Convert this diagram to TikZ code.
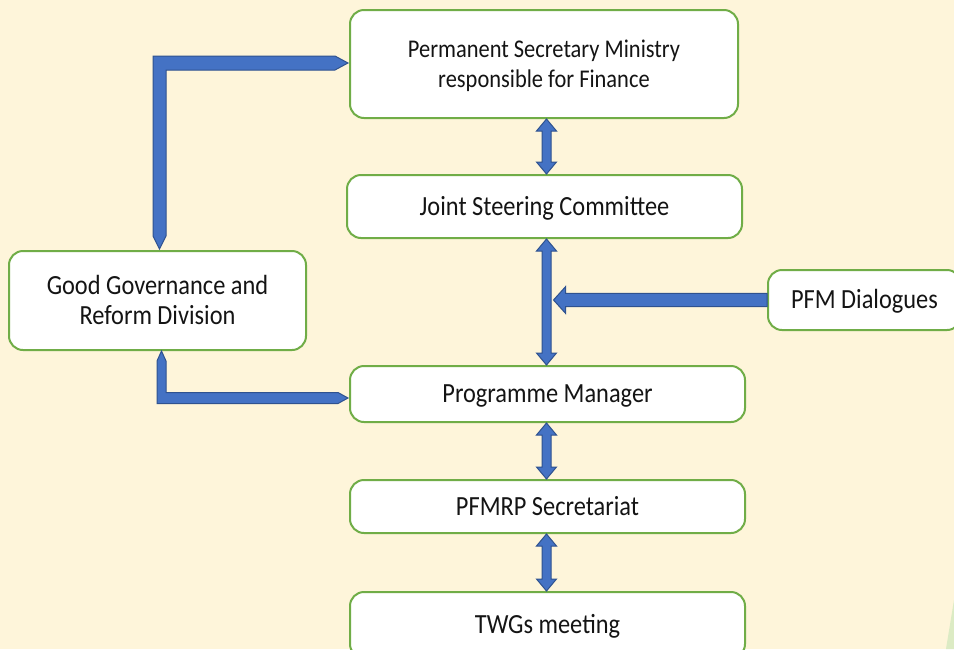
\documentclass[tikz,border=0pt]{standalone}
\usepackage{fontspec}
\setmainfont{Carlito}[FakeStretch=0.88]
\usetikzlibrary{calc}
\definecolor{bg}{HTML}{FEF5DA}
\definecolor{bordergreen}{HTML}{70AD47}
\definecolor{arrowblue}{HTML}{4472C4}
\definecolor{arrowedge}{HTML}{2F528F}
\definecolor{txt}{HTML}{141414}
\definecolor{lightgreen}{HTML}{DCEBC4}
\newcommand\myvdarrow[2]{%
  \path (#1) coordinate (vt) (#2) coordinate (vb);
  \filldraw[blk] (vt) -- ($(vt)+(10,12)$) -- ($(vt)+(4.5,12)$) -- ($(vb)+(4.5,-12)$) -- ($(vb)+(10,-12)$) -- (vb)
    -- ($(vb)+(-10,-12)$) -- ($(vb)+(-4.5,-12)$) -- ($(vt)+(-4.5,12)$) -- ($(vt)+(-10,12)$) -- cycle;}
\newcommand\mybt[1]{\raisebox{-2.5pt}[\height][\depth]{\begin{tabular}{@{}c@{}}#1\end{tabular}}}
\begin{document}
\begin{tikzpicture}[x=1pt,y=-1pt,
 box/.style={draw=bordergreen, line width=2pt, fill=white, rounded corners=14pt, align=center, text=txt, font=\fontsize{27.7}{30}\selectfont, inner sep=0pt},
 smallbox/.style={box, font=\fontsize{25.5}{30}\selectfont},
 blk/.style={fill=arrowblue, draw=arrowedge, line width=1pt, line join=miter}]
\fill[bg] (0,0) rectangle (954,649);
\useasboundingbox (0,0) rectangle (954,649);
\fill[lightgreen] (954,600) -- (946,649) -- (954,649) -- cycle;

\node[smallbox, minimum width=388pt, minimum height=108pt] (psm) at (544,64) {\mybt{Permanent Secretary Ministry\\responsible for Finance}};
\node[box, minimum width=395pt, minimum height=63pt] (jsc) at (544.5,206.5) {\mybt{Joint Steering Committee}};
\node[box, minimum width=297pt, minimum height=99pt] (ggr) at (157.5,300.5) {\mybt{Good Governance and\\Reform Division}};
\node[box, minimum width=193pt, minimum height=60pt] (pfd) at (864.5,300) {\mybt{PFM Dialogues}};
\node[box, minimum width=395pt, minimum height=56pt] (pm) at (547.5,394) {\mybt{Programme Manager}};
\node[box, minimum width=395pt, minimum height=53pt] (sec) at (547.5,506.5) {\mybt{PFMRP Secretariat}};
\node[box, minimum width=395pt, minimum height=66pt] (twg) at (547.5,625) {\mybt{TWGs meeting}};

% vertical double arrows
\myvdarrow{546.5,0 |- psm.south}{546.5,0 |- jsc.north}
\myvdarrow{546.5,0 |- jsc.south}{546.5,0 |- pm.north}
\myvdarrow{546.5,0 |- pm.south}{546.5,0 |- sec.north}
\myvdarrow{546.5,0 |- sec.south}{546.5,0 |- twg.north}

% PFM Dialogues arrow
\coordinate (pt) at (553.5,0 |- pfd.west);
\filldraw[blk] (pfd.west) ++(0,-6.7) -- ($(pt)+(12,-6.7)$) -- ($(pt)+(12,-13.3)$) -- (pt) -- ($(pt)+(12,13.3)$) -- ($(pt)+(12,6.7)$) -- ($(pfd.west)+(0,6.7)$) -- cycle;

% top elbow arrow
\coordinate (ea) at ($(ggr.north)+(2,-1)$);
\coordinate (eb) at ($(psm.west)+(-1,-1)$);
\coordinate (ec) at (ea |- eb);
\filldraw[blk] (ea) -- ($(ea)+(6.5,-13)$) -- ($(ec)+(6.5,7)$) -- ($(eb)+(-13,7)$) -- (eb) -- ($(eb)+(-13,-7)$) -- ($(ec)+(-6.5,-7)$) -- ($(ea)+(-6.5,-13)$) -- cycle;

% bottom elbow arrow
\coordinate (fa) at ($(ggr.south)+(4,0)$);
\coordinate (fb) at ($(pm.west)+(-1,4)$);
\coordinate (fc) at (fa |- fb);
\filldraw[blk] (fa) -- ($(fa)+(4.5,10)$) -- ($(fc)+(4.5,-5.5)$) -- ($(fb)+(-10,-5.5)$) -- (fb) -- ($(fb)+(-10,5.5)$) -- ($(fc)+(-4.5,5.5)$) -- ($(fa)+(-4.5,10)$) -- cycle;
\end{tikzpicture}
\end{document}
